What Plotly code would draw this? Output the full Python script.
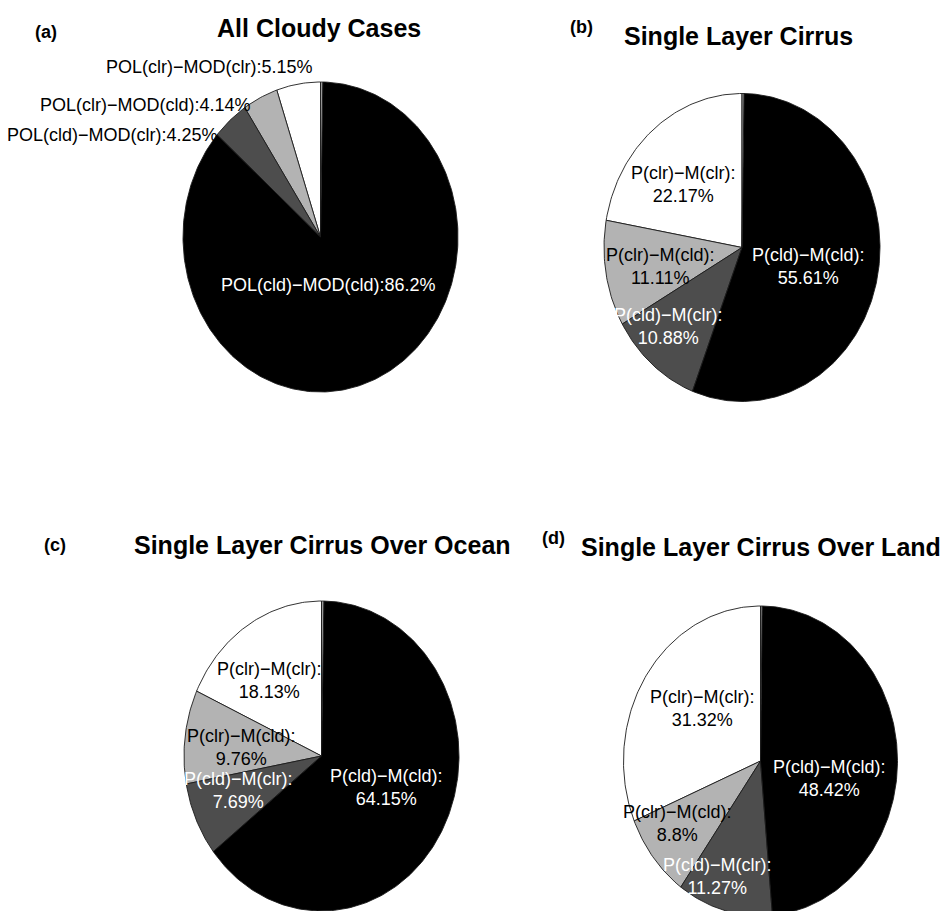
import numpy as np
import plotly.graph_objects as go

# ---- data -------------------------------------------------------------
# slice order: counter-clockwise starting at 12 o'clock
CATEGORIES = ["clr-clr", "clr-cld", "cld-clr", "cld-cld", "other"]
SHORT_NAMES = ["P(clr)−M(clr)", "P(clr)−M(cld)", "P(cld)−M(clr)", "P(cld)−M(cld)", ""]
LONG_NAMES = ["POL(clr)−MOD(clr)", "POL(clr)−MOD(cld)", "POL(cld)−MOD(clr)", "POL(cld)−MOD(cld)", ""]

ALL_CLOUDY = [5.15, 4.14, 4.25, 86.2, 0.26]
CIRRUS = [22.17, 11.11, 10.88, 55.61, 0.23]
CIRRUS_OCEAN = [18.13, 9.76, 7.69, 64.15, 0.27]
CIRRUS_LAND = [31.32, 8.8, 11.27, 48.42, 0.19]

TITLES = ["All Cloudy Cases", "Single Layer Cirrus",
          "Single Layer Cirrus Over Ocean", "Single Layer Cirrus Over Land"]
PANEL_TAGS = ["(a)", "(b)", "(c)", "(d)"]

# ---- styling ----------------------------------------------------------
W, H = 947, 911
FONT = "Liberation Sans, Arial, Helvetica, sans-serif"
FILLS = ["#ffffff", "#b3b3b3", "#4d4d4d", "#000000", "#9a9a9a"]
TEXT_COLORS = ["black", "black", "white", "white"]

# pie geometry in pixels: centre and semi-axes
PANELS = [
    dict(values=ALL_CLOUDY, cx=320.5, cy=237, rx=137.5, ry=155, long=True,
         title_xy=(318.5, 28), tag_xy=(46, 32),
         labels=[(-0.04, 1.097), (-0.491, 0.852), (-0.731, 0.658), (0.058, -0.31)]),
    dict(values=CIRRUS, cx=742, cy=247.5, rx=138, ry=154, long=False,
         title_xy=(738.3, 36), tag_xy=(581, 27),
         labels=[(-0.43, 0.406), (-0.594, -0.125), (-0.534, -0.514), (0.48, -0.125)]),
    dict(values=CIRRUS_OCEAN, cx=321.5, cy=756, rx=137.5, ry=155, long=False,
         title_xy=(322, 545), tag_xy=(55, 545),
         labels=[(-0.384, 0.49), (-0.58, 0.055), (-0.605, -0.223), (0.474, -0.206)]),
    dict(values=CIRRUS_LAND, cx=760.5, cy=761, rx=137, ry=155, long=False,
         title_xy=(760.5, 547), tag_xy=(553.5, 538),
         labels=[(-0.429, 0.34), (-0.607, -0.402), (-0.315, -0.746), (0.507, -0.112)]),
]


def wedge(start, end):
    """Closed polygon of a pie wedge on the unit circle, angles counter-clockwise from top."""
    n = max(int(np.degrees(end - start)), 2)
    t = np.linspace(start, end, n + 1)
    x = np.concatenate([[0.0], -np.sin(t), [0.0]])
    y = np.concatenate([[0.0], np.cos(t), [0.0]])
    return x, y


def to_paper(px, py):
    return px / W, 1 - py / H


fig = go.Figure()
annotations = []
layout_axes = {}
PAD = 1.02

for i, p in enumerate(PANELS, start=1):
    sfx = "" if i == 1 else str(i)
    cx, cy, rx, ry = p["cx"], p["cy"], p["rx"], p["ry"]

    # axis domains so that the unit circle becomes an rx x ry ellipse
    x0, x1 = cx - PAD * rx, cx + PAD * rx
    top = cy - PAD * ry
    bottom = cy + PAD * ry
    y_lo = -PAD
    if bottom > H:
        y_lo = -(H - cy) / ry
        bottom = H
    layout_axes["xaxis" + sfx] = dict(domain=[x0 / W, x1 / W], range=[-PAD, PAD],
                                      visible=False, fixedrange=True, anchor="y" + sfx)
    layout_axes["yaxis" + sfx] = dict(domain=[1 - bottom / H, 1 - top / H], range=[y_lo, PAD],
                                      visible=False, fixedrange=True, anchor="x" + sfx)

    vals = np.array(p["values"], dtype=float)
    edges = np.concatenate([[0.0], np.cumsum(vals) / vals.sum()]) * 2 * np.pi
    for k in range(len(vals)):
        wx, wy = wedge(edges[k], edges[k + 1])
        fig.add_trace(go.Scatter(
            x=wx, y=wy, mode="lines", fill="toself", fillcolor=FILLS[k],
            line=dict(color="#1c1c1c", width=0.9), hoverinfo="skip",
            xaxis="x" + sfx, yaxis="y" + sfx, showlegend=False))

    # slice labels
    for k, (nx, ny) in enumerate(p["labels"]):
        px, py = cx + nx * rx, cy - ny * ry
        xp, yp = to_paper(px, py)
        if p["long"]:
            text = f"{LONG_NAMES[k]}:{vals[k]:g}%"
            outside = k < 3
            annotations.append(dict(
                x=xp, y=yp, xref="paper", yref="paper", text=text, showarrow=False,
                xanchor="right" if outside else "center", yanchor="middle",
                font=dict(family=FONT, size=18,
                          color="black" if outside else TEXT_COLORS[k])))
        else:
            text = f"{SHORT_NAMES[k]}:<br>{vals[k]:g}%"
            annotations.append(dict(
                x=xp, y=yp, xref="paper", yref="paper", text=text, showarrow=False,
                xanchor="center", yanchor="middle", align="center",
                font=dict(family=FONT, size=18, color=TEXT_COLORS[k])))

    # panel title and tag
    tx, ty = to_paper(*p["title_xy"])
    annotations.append(dict(x=tx, y=ty, xref="paper", yref="paper",
                            text=f"<b>{TITLES[i - 1]}</b>", showarrow=False,
                            xanchor="center", yanchor="middle",
                            font=dict(family=FONT, size=25, color="black")))
    gx, gy = to_paper(*p["tag_xy"])
    annotations.append(dict(x=gx, y=gy, xref="paper", yref="paper",
                            text=f"<b>{PANEL_TAGS[i - 1]}</b>", showarrow=False,
                            xanchor="center", yanchor="middle",
                            font=dict(family=FONT, size=18, color="black")))

fig.update_layout(
    width=W, height=H, autosize=False,
    margin=dict(l=0, r=0, t=0, b=0),
    paper_bgcolor="white", plot_bgcolor="white",
    showlegend=False, annotations=annotations,
    **layout_axes,
)

fig.write_html("out.html", config={"displayModeBar": False})
